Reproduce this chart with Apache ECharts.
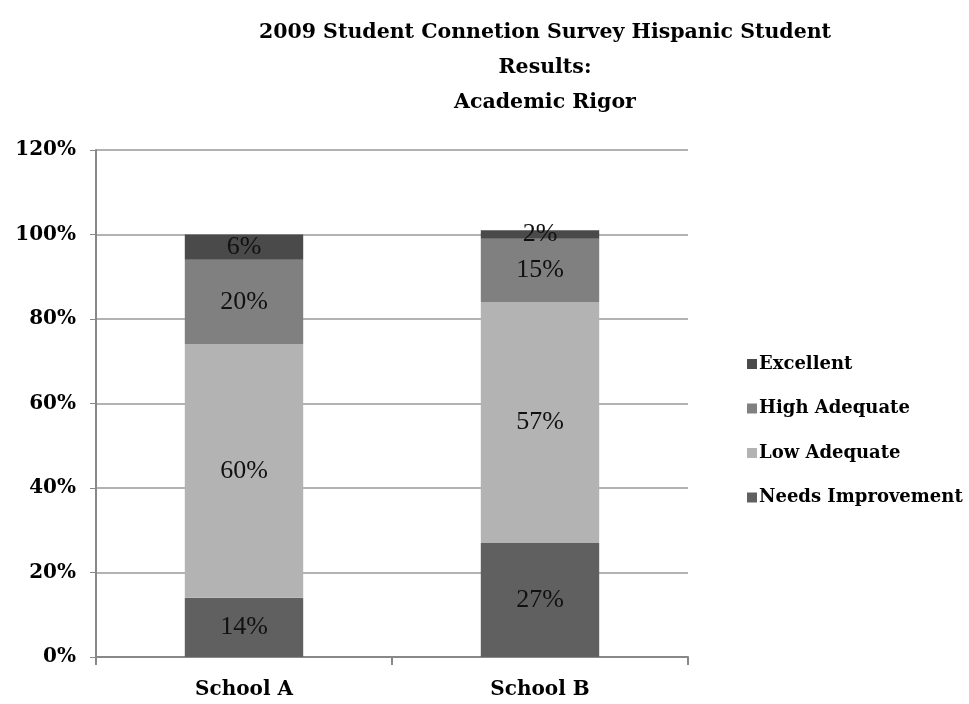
<!DOCTYPE html>
<html><head><meta charset="utf-8">
<script src="https://cdn.jsdelivr.net/npm/echarts@6/dist/echarts.min.js"></script>
<style>html,body{margin:0;padding:0;background:#fff}#c{width:969px;height:704px}</style>
</head><body><div id="c"></div>
<script>
const categories = ['School A', 'School B'];
const needsImprovement = [14, 27];
const lowAdequate = [60, 57];
const highAdequate = [20, 15];
const excellent = [6, 2];
const yTicks = [0, 20, 40, 60, 80, 100, 120];

const serif = '"Liberation Serif", "DejaVu Serif", serif';
const wide = '"DejaVu Serif", "Liberation Serif", serif';
const lbl = {show: true, position: 'inside', formatter: p => p.value + '%', fontFamily: serif, fontSize: 26, color: '#111'};
function s(name, data, color) {
  return {name, type: 'bar', stack: 'all', data, barWidth: '40%', itemStyle: {color}, label: lbl, emphasis: {disabled: true}};
}
const chart = echarts.init(document.getElementById('c'));
chart.setOption({
  animation: false,
  title: {text: '2009 Student Connetion Survey Hispanic Student\nResults:\nAcademic Rigor', left: 540, top: 10, textAlign: 'center',
    textStyle: {fontFamily: wide, fontWeight: 'bold', fontSize: 20.5, lineHeight: 35, color: '#000'}},
  legend: {orient: 'vertical', left: 742, top: 350, itemGap: 26.5, itemWidth: 10, itemHeight: 10, icon: 'rect',
    data: ['Excellent', 'High Adequate', 'Low Adequate', 'Needs Improvement'],
    textStyle: {fontFamily: wide, fontWeight: 'bold', fontSize: 18, color: '#000', padding: [0,0,0,-3]}},
  grid: {left: 96, right: 281, top: 150, bottom: 47},
  xAxis: {type: 'category', data: categories,
    axisLine: {lineStyle: {color: '#888', width: 2}},
    axisTick: {show: true, alignWithLabel: false, length: 8, lineStyle: {color: '#888', width: 2}},
    axisLabel: {fontFamily: wide, fontWeight: 'bold', fontSize: 20, color: '#000', margin: 23}},
  yAxis: {type: 'value', min: 0, max: 120, interval: 20,
    axisLine: {show: true, lineStyle: {color: '#888', width: 2}},
    axisTick: {show: true, length: 6, lineStyle: {color: '#888'}},
    splitLine: {lineStyle: {color: '#999', width: 1.5}},
    axisLabel: {formatter: v => yTicks.includes(v) ? v + '%' : '', fontFamily: wide, fontWeight: 'bold', fontSize: 20, color: '#000', margin: 20}},
  series: [
    s('Needs Improvement', needsImprovement, '#606060'),
    s('Low Adequate', lowAdequate, '#b3b3b3'),
    s('High Adequate', highAdequate, '#808080'),
    s('Excellent', excellent, '#4a4a4a')
  ]
});
</script></body></html>
